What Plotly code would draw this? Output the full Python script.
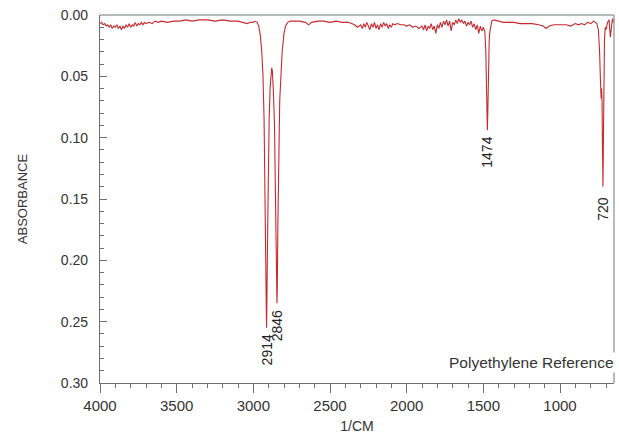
import plotly.graph_objects as go

# ---- data ----
wavenumber = [
    4000, 3990, 3980, 3970, 3960, 3950, 3940, 3930, 3920, 3910, 3900, 3890, 3880, 3870, 3860, 3850,
    3840, 3830, 3820, 3810, 3800, 3790, 3780, 3770, 3760, 3750, 3740, 3730, 3720, 3710, 3700, 3680,
    3660, 3640, 3620, 3600, 3560, 3520, 3480, 3440, 3400, 3350, 3300, 3250, 3200, 3150, 3100, 3060,
    3040, 3020, 3000,
    2990, 2975, 2965, 2955, 2945, 2937, 2930, 2925, 2920, 2916, 2914, 2912, 2908, 2903, 2897, 2890,
    2884, 2880, 2876, 2870, 2862, 2855, 2850, 2847, 2846, 2844, 2840, 2835, 2828, 2820, 2812, 2800,
    2790, 2775, 2760,
    2700, 2660, 2640, 2620, 2580, 2540, 2500, 2460, 2420, 2380, 2340, 2320, 2300, 2290, 2280, 2270,
    2260, 2250, 2240, 2230, 2220, 2210, 2200, 2190, 2180, 2170, 2160, 2150, 2140, 2130, 2120, 2110,
    2100, 2090, 2080, 2060, 2040, 2020, 2000, 1980, 1960, 1940, 1920, 1900, 1890, 1880, 1870, 1860,
    1850, 1840, 1830, 1820, 1810, 1800, 1790, 1780, 1770, 1760, 1750, 1740, 1730, 1720, 1710, 1700,
    1690, 1680, 1670, 1660, 1650, 1640, 1630, 1620, 1610, 1600, 1590, 1580, 1570, 1560, 1550, 1540,
    1530, 1520, 1510, 1500, 1490,
    1484, 1480, 1477, 1474, 1471, 1468, 1465, 1462, 1458, 1452, 1445,
    1430, 1400, 1370, 1340, 1300, 1260, 1220, 1180, 1140, 1110, 1090, 1070, 1040, 1000, 960, 930,
    900, 880, 860, 840, 820, 800, 780, 770, 760,
    750, 742, 736, 732, 729, 726, 723, 720, 717, 714, 710, 705,
    700, 690, 680, 672, 665, 658, 650,
]
absorbance = [
    0.007, 0.006, 0.008, 0.007, 0.009, 0.008, 0.010, 0.008, 0.011, 0.009, 0.010, 0.008, 0.011, 0.009, 0.012, 0.009,
    0.011, 0.008, 0.010, 0.007, 0.010, 0.008, 0.009, 0.006, 0.009, 0.007, 0.008, 0.006, 0.008, 0.006, 0.007, 0.006,
    0.007, 0.005, 0.006, 0.005, 0.006, 0.005, 0.005, 0.004, 0.005, 0.004, 0.004, 0.005, 0.004, 0.005, 0.005, 0.006,
    0.007, 0.006, 0.006,
    0.005, 0.006, 0.009, 0.016, 0.030, 0.050, 0.085, 0.130, 0.190, 0.240, 0.255, 0.240, 0.190, 0.130, 0.085, 0.058,
    0.046, 0.043, 0.046, 0.060, 0.090, 0.150, 0.205, 0.232, 0.235, 0.225, 0.170, 0.110, 0.070, 0.050, 0.030, 0.015,
    0.009, 0.006, 0.005,
    0.005, 0.006, 0.008, 0.006, 0.005, 0.005, 0.006, 0.005, 0.006, 0.006, 0.008, 0.010, 0.008, 0.011, 0.007, 0.010,
    0.006, 0.009, 0.012, 0.007, 0.010, 0.006, 0.011, 0.008, 0.012, 0.007, 0.010, 0.006, 0.009, 0.007, 0.011, 0.008,
    0.010, 0.007, 0.008, 0.007, 0.008, 0.008, 0.009, 0.008, 0.010, 0.009, 0.011, 0.009, 0.012, 0.008, 0.013, 0.009,
    0.011, 0.007, 0.012, 0.009, 0.015, 0.008, 0.011, 0.006, 0.010, 0.005, 0.008, 0.004, 0.009, 0.005, 0.013, 0.006,
    0.008, 0.004, 0.007, 0.003, 0.006, 0.004, 0.007, 0.005, 0.009, 0.006, 0.008, 0.005, 0.010, 0.007, 0.012, 0.008,
    0.015, 0.009, 0.013, 0.010, 0.014,
    0.030, 0.060, 0.085, 0.094, 0.080, 0.045, 0.025, 0.022, 0.014, 0.008, 0.005,
    0.004, 0.005, 0.006, 0.006, 0.006, 0.007, 0.007, 0.007, 0.008, 0.009, 0.011, 0.009, 0.008, 0.008, 0.008, 0.009,
    0.007, 0.008, 0.007, 0.008, 0.006, 0.007, 0.005, 0.006, 0.007,
    0.012, 0.030, 0.055, 0.068, 0.060, 0.070, 0.110, 0.140, 0.100, 0.050, 0.020, 0.010,
    0.012, 0.006, 0.004, 0.018, 0.008, 0.003, 0.006,
]

peak_labels = ["2914", "2846", "1474", "720"]
peak_wavenumber = [2914, 2846, 1474, 720]
peak_absorbance = [0.255, 0.235, 0.094, 0.140]

x_ticks = [4000, 3500, 3000, 2500, 2000, 1500, 1000]
y_ticks = [0.00, 0.05, 0.10, 0.15, 0.20, 0.25, 0.30]

LINE = "#c62a2f"
AX = "#6e6e6e"
FONT = "Liberation Sans, Arial, sans-serif"

fig = go.Figure()
fig.add_trace(go.Scatter(x=wavenumber, y=absorbance, mode="lines",
                         line=dict(color=LINE, width=1.1), hoverinfo="skip"))

# peak labels (rotated), placed just below each peak tip
for lab, wx, ay in zip(peak_labels, peak_wavenumber, peak_absorbance):
    fig.add_annotation(x=wx, y=ay + 0.018, xref="x", yref="y", text=lab, showarrow=False,
                       textangle=-90, xanchor="center", yanchor="middle",
                       font=dict(family=FONT, size=14, color="#222"))

# top (zero) line and right border
fig.add_shape(type="line", xref="paper", yref="paper", x0=0, x1=1, y0=1, y1=1,
              line=dict(color="#9aa6a6", width=1.5))
fig.add_shape(type="line", xref="paper", yref="paper", x0=1, x1=1, y0=0, y1=1,
              line=dict(color="#8a8a8a", width=1.2))

fig.add_annotation(x=1.003, y=0.057, xref="paper", yref="paper", text="Polyethylene Reference",
                   showarrow=False, xanchor="right", yanchor="middle", bgcolor="white",
                   font=dict(family=FONT, size=15.5, color="#333"))

fig.update_xaxes(range=[4000, 648], tickvals=x_ticks, tickformat="d",
                 ticks="outside", ticklen=9, tickcolor=AX, tickwidth=1,
                 minor=dict(dtick=100, tick0=0, ticks="outside", ticklen=4, tickcolor=AX),
                 showline=True, linecolor=AX, linewidth=1.2, showgrid=False, zeroline=False,
                 automargin=False,
                 tickfont=dict(family=FONT, size=15, color="#333"),
                 title=dict(text="1/CM", font=dict(family=FONT, size=14, color="#333"), standoff=12))
fig.update_yaxes(range=[0.30, 0.0], tickvals=y_ticks, tickformat=".2f",
                 ticks="inside", ticklen=7, tickcolor=AX, tickwidth=1,
                 minor=dict(dtick=0.01, tick0=0, ticks="inside", ticklen=4, tickcolor=AX),
                 showline=True, linecolor=AX, linewidth=1.2, showgrid=False, zeroline=False,
                 tickfont=dict(family=FONT, size=14, color="#333"),
                 ticklabelstandoff=8,
                 title=dict(text="ABSORBANCE", font=dict(family=FONT, size=13, color="#333"), standoff=30))

fig.update_layout(width=619, height=434, margin=dict(l=100, r=5, t=15, b=51),
                  plot_bgcolor="white", paper_bgcolor="white", showlegend=False)

fig.write_html("out.html", config={"displayModeBar": False},
               post_script="document.body.style.margin='0';document.body.style.overflow='hidden';")
